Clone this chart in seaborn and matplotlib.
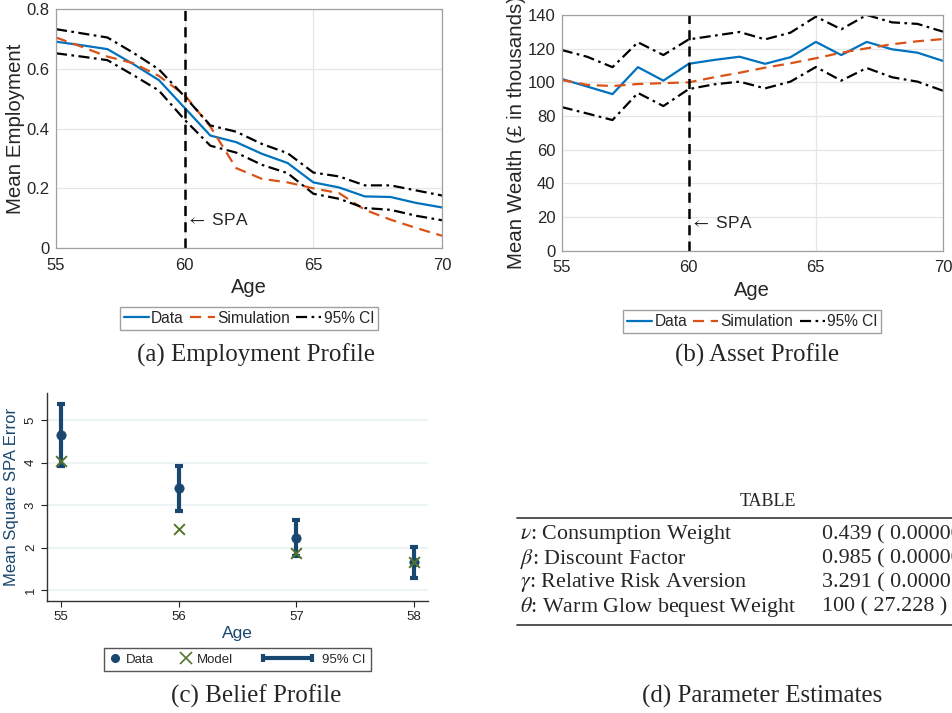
import numpy as np
import pandas as pd
import matplotlib.pyplot as plt
import seaborn as sns
from matplotlib.lines import Line2D
from matplotlib.legend_handler import HandlerLine2D

# ages for the top panels
ages = list(range(55, 71))

# (a) employment profile
emp_data = [0.692, 0.680, 0.667, 0.617, 0.563, 0.470, 0.377, 0.355,
            0.316, 0.285, 0.220, 0.203, 0.173, 0.171, 0.151, 0.136]
emp_sim = [0.706, 0.675, 0.642, 0.620, 0.577, 0.513, 0.407, 0.268,
           0.232, 0.220, 0.200, 0.184, 0.128, 0.095, 0.067, 0.041]
emp_ci_hi = [0.734, 0.720, 0.706, 0.655, 0.599, 0.508, 0.411, 0.390,
             0.349, 0.318, 0.253, 0.240, 0.210, 0.210, 0.193, 0.176]
emp_ci_lo = [0.653, 0.642, 0.630, 0.580, 0.528, 0.430, 0.343, 0.320,
             0.279, 0.251, 0.182, 0.165, 0.134, 0.128, 0.108, 0.093]

# (b) asset profile (thousands)
wealth_data = [102.0, 97.5, 93.0, 109.0, 101.0, 111.0, 113.3, 115.2,
               111.0, 114.9, 124.0, 116.2, 124.0, 119.6, 117.6, 112.7]
wealth_sim = [101.4, 98.5, 97.8, 99.0, 99.5, 100.0, 103.0, 105.7,
              108.7, 111.3, 114.3, 117.6, 120.2, 122.6, 124.4, 125.7]
wealth_ci_hi = [119.2, 115.2, 109.0, 123.8, 116.2, 125.5, 127.7, 129.9,
                125.5, 129.5, 139.0, 131.5, 140.0, 135.6, 134.7, 130.1]
wealth_ci_lo = [85.3, 81.5, 77.6, 93.7, 85.9, 96.0, 98.8, 100.4,
                96.4, 100.4, 109.1, 101.0, 108.5, 103.0, 100.4, 95.0]

# (c) belief profile
belief_ages = [55, 56, 57, 58]
belief_data = [4.64, 3.41, 2.22, 1.67]
belief_ci_lo = [3.92, 2.87, 1.79, 1.28]
belief_ci_hi = [5.38, 3.93, 2.65, 2.02]
belief_model = [4.04, 2.44, 1.88, 1.67]

# (d) parameter estimates
param_names = [r'$\nu$: Consumption Weight', r'$\beta$: Discount Factor',
               r'$\gamma$: Relative Risk Aversion', r'$\theta$: Warm Glow bequest Weight']
param_values = ['0.439 ( 0.000000 )', '0.985 ( 0.000000 )',
                '3.291 ( 0.00001 )', '100 ( 27.228 )']

sns.set_style('white')
plt.rcParams['font.family'] = ['Liberation Sans', 'DejaVu Sans']
plt.rcParams['mathtext.fontset'] = 'stix'

BLUE = '#0072BD'
ORANGE = '#D95319'
NAVY = '#1a476f'
GREEN = '#55752f'

fig = plt.figure(figsize=(9.52, 7.13), dpi=100)


class WideCIHandler(HandlerLine2D):
    # stata draws the CI legend key much wider than the marker keys
    def legend_artist(self, legend, orig_handle, fontsize, handlebox):
        handlebox.width = 4.3 * fontsize
        return super().legend_artist(legend, orig_handle, fontsize, handlebox)


def matlab_panel(ax, data, sim, hi, lo, ylim, yticks, ylabel, spa_y, legend_off):
    df = pd.DataFrame({'age': ages, 'data': data, 'sim': sim, 'hi': hi, 'lo': lo})
    sns.lineplot(data=df, x='age', y='data', ax=ax, color=BLUE, linewidth=1.6, label='Data')
    sns.lineplot(data=df, x='age', y='sim', ax=ax, color=ORANGE, linewidth=1.6,
                 linestyle=(0, (5, 3)), label='Simulation')
    sns.lineplot(data=df, x='age', y='hi', ax=ax, color='black', linewidth=1.6,
                 linestyle=(0, (5, 2, 1.2, 2)), label='95% CI')
    sns.lineplot(data=df, x='age', y='lo', ax=ax, color='black', linewidth=1.6,
                 linestyle=(0, (5, 2, 1.2, 2)))
    ax.axvline(60, color='black', linestyle=(0, (4, 2.5)), linewidth=1.8)
    ax.text(60.05, spa_y, r'$\leftarrow$ SPA', fontsize=12.5, va='center', ha='left')
    ax.set_xlim(55, 70)
    ax.set_ylim(*ylim)
    ax.set_xticks([55, 60, 65, 70])
    ax.set_yticks(yticks)
    ax.grid(True, color='#e6e6e6', linewidth=0.9)
    for sp in ax.spines.values():
        sp.set_color('#a0a0a0')
        sp.set_linewidth(0.9)
    ax.tick_params(labelsize=12, colors='#262626', length=0)
    ax.tick_params(axis='x', pad=7)
    ax.tick_params(axis='y', pad=4.5)
    ax.set_xlabel('Age', fontsize=14.5, color='#262626', labelpad=4)
    ax.set_ylabel(ylabel, fontsize=14.8, color='#262626', labelpad=1)
    handles, labels = ax.get_legend_handles_labels()
    ax.legend(handles[:3], labels[:3], loc='upper center', bbox_to_anchor=(0.5, legend_off),
              ncol=3, frameon=True, fancybox=False, edgecolor='#a0a0a0', framealpha=1,
              fontsize=11.2, handlelength=1.6, handletextpad=0.15, columnspacing=0.4,
              borderpad=0.25, borderaxespad=0)


# (a)
ax_a = fig.add_axes([0.0588, 0.6522, 0.4055, 0.3345])
matlab_panel(ax_a, emp_data, emp_sim, emp_ci_hi, emp_ci_lo, (0, 0.8),
             [0, 0.2, 0.4, 0.6, 0.8], 'Mean Employment', 0.095, -0.247)
ax_a.set_yticklabels(['0', '0.2', '0.4', '0.6', '0.8'])

# (b)
ax_b = fig.add_axes([0.590, 0.6484, 0.4005, 0.3306])
matlab_panel(ax_b, wealth_data, wealth_sim, wealth_ci_hi, wealth_ci_lo, (0, 140),
             list(range(0, 141, 20)), 'Mean Wealth (£ in thousands)', 16.6, -0.252)

# (c)
ax_c = fig.add_axes([0.0497, 0.1575, 0.3996, 0.2913])
ax_c.errorbar(belief_ages, belief_data,
              yerr=[np.subtract(belief_data, belief_ci_lo), np.subtract(belief_ci_hi, belief_data)],
              fmt='none', ecolor=NAVY, elinewidth=3, capsize=3.2, capthick=3, zorder=2)
bdf = pd.DataFrame({'age': belief_ages, 'data': belief_data, 'model': belief_model})
sns.scatterplot(data=bdf, x='age', y='data', ax=ax_c, color=NAVY, s=45,
                edgecolor=NAVY, zorder=3)
sns.scatterplot(data=bdf, x='age', y='model', ax=ax_c, color=GREEN, marker='x', s=60,
                linewidth=1.4, zorder=4)
ax_c.set_xlim(54.886, 58.116)
ax_c.set_ylim(0.749, 5.64)
ax_c.set_xticks(belief_ages)
ax_c.set_yticks([1, 2, 3, 4, 5])
ax_c.yaxis.grid(True, color='#eaf2f3', linewidth=1.3)
ax_c.set_axisbelow(True)
for sp in ['top', 'right']:
    ax_c.spines[sp].set_visible(False)
for sp in ['left', 'bottom']:
    ax_c.spines[sp].set_color('#333333')
    ax_c.spines[sp].set_linewidth(1.0)
ax_c.tick_params(axis='both', labelsize=9.5, colors='#222222', length=4, width=0.8,
                 direction='out', left=True, bottom=True)
ax_c.tick_params(axis='y', labelrotation=90)
for lbl in ax_c.get_yticklabels():
    lbl.set_va('center')
ax_c.set_xlabel('Age', fontsize=12.5, color=NAVY, labelpad=2)
ax_c.set_ylabel('Mean Square SPA Error', fontsize=12, color=NAVY, labelpad=4)
h_data = Line2D([], [], color=NAVY, marker='o', linestyle='none', markersize=5.5)
h_model = Line2D([], [], color=GREEN, marker='x', linestyle='none', markersize=8,
                 markeredgewidth=1.2)
h_ci = Line2D([], [], color=NAVY, linewidth=3, marker='|', markersize=6,
              markeredgewidth=3)
ax_c.legend([h_data, h_model, h_ci], ['Data', 'Model', '95% CI'],
            handler_map={h_ci: WideCIHandler(numpoints=2)},
            loc='upper center', bbox_to_anchor=(0.5, -0.228), ncol=3, frameon=True,
            fancybox=False, edgecolor='#555555', framealpha=1, fontsize=9.5,
            handlelength=0.8, handletextpad=0.45, columnspacing=2.0, borderpad=0.4,
            borderaxespad=0)

# captions
serif = ['Liberation Serif', 'DejaVu Serif']
fig.text(256 / 952, 1 - 355 / 713, '(a) Employment Profile', fontsize=18,
         family=serif, ha='center', va='center')
fig.text(757 / 952, 1 - 355 / 713, '(b) Asset Profile', fontsize=18,
         family=serif, ha='center', va='center')
fig.text(256 / 952, 1 - 696 / 713, '(c) Belief Profile', fontsize=18,
         family=serif, ha='center', va='center')
fig.text(762 / 952, 1 - 696 / 713, '(d) Parameter Estimates', fontsize=18,
         family=serif, ha='center', va='center')

# (d) parameter table
fig.text(768 / 952, 1 - 502 / 713, 'TABLE', fontsize=13, family=serif,
         ha='center', va='center')
fig.add_artist(Line2D([517 / 952, 1.0], [1 - 518 / 713] * 2, color='#444444', linewidth=1.3))
fig.add_artist(Line2D([517 / 952, 1.0], [1 - 625 / 713] * 2, color='#444444', linewidth=1.3))
row_y = [535, 559, 583, 607]
for name, val, y in zip(param_names, param_values, row_y):
    fig.text(520 / 952, 1 - y / 713, name, fontsize=15.8, family=serif,
             ha='left', va='center')
    fig.text(822 / 952, 1 - y / 713, val, fontsize=15.8, family=serif,
             ha='left', va='center')

fig.savefig('out.png', dpi=100)
